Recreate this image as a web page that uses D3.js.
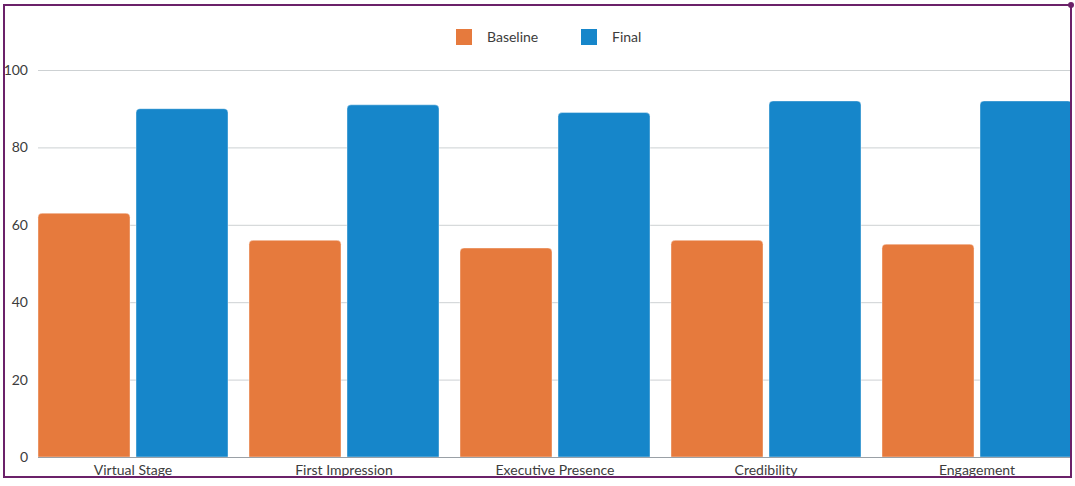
<!DOCTYPE html>
<html><head><meta charset="utf-8">
<script src="https://cdn.jsdelivr.net/npm/d3@7"></script>
<style>
html,body{margin:0;padding:0;background:#fff;}
svg{display:block;}
text{font-family:"Source Sans Pro","Lato","Open Sans",sans-serif;}
</style></head>
<body>
<svg id="c" width="1075" height="486"></svg>
<script>
const categories = ["Virtual Stage","First Impression","Executive Presence","Credibility","Engagement"];
const seriesNames = ["Baseline","Final"];
const baseline = [63,56,54,56,55];
const finalVals = [90,91,89,92,92];
const yTicks = [0,20,40,60,80,100];
const colors = ["#E67A3D","#1686CA"];

const svg = d3.select("#c");
const W = 1075, H = 486;
const plotLeft = 38, plotTop = 70, plotBottom = 457;
const step = 211;

svg.append("defs").append("clipPath").attr("id","clipArea")
  .append("rect").attr("x",5).attr("y",6).attr("width",1065).attr("height",470);

const xg = d3.scaleBand().domain(categories)
  .range([plotLeft, plotLeft + step*categories.length - 21])
  .paddingInner(21/211).paddingOuter(0);
const x1 = d3.scaleBand().domain(seriesNames).range([0, xg.bandwidth()]).paddingInner(6/98);
const y = d3.scaleLinear().domain([0,100]).range([plotBottom, plotTop]);

const g = svg.append("g").attr("clip-path","url(#clipArea)");

// gridlines
g.append("g").selectAll("line").data(yTicks.filter(d=>d>0)).join("line")
  .attr("x1", plotLeft).attr("x2", W)
  .attr("y1", d=>y(d)+0.5).attr("y2", d=>y(d)+0.5)
  .attr("stroke","#cdd1d3").attr("stroke-width",1);

// bars
const data = categories.map((c,i)=>({cat:c, vals:[baseline[i], finalVals[i]]}));
const r = 4;
function roundTop(xp, yp, w, h){
  const rr = Math.min(r, h);
  return `M${xp},${yp+h}V${yp+rr}Q${xp},${yp} ${xp+rr},${yp}H${xp+w-rr}Q${xp+w},${yp} ${xp+w},${yp+rr}V${yp+h}Z`;
}
const groups = g.append("g").selectAll("g").data(data).join("g")
  .attr("transform", d=>`translate(${xg(d.cat)},0)`);
groups.selectAll("path").data(d=>d.vals.map((v,i)=>({v, s:seriesNames[i], i}))).join("path")
  .attr("d", d=>roundTop(x1(d.s), y(d.v), x1.bandwidth(), plotBottom - y(d.v)))
  .attr("fill", d=>colors[d.i])
  .attr("stroke","#ffffff").attr("stroke-opacity",0.4).attr("stroke-width",1);

// x axis line
g.append("line").attr("x1",plotLeft).attr("x2",W)
  .attr("y1",plotBottom+0.5).attr("y2",plotBottom+0.5)
  .attr("stroke","#9aa0a6").attr("stroke-width",1);

// x labels
g.append("g").selectAll("text").data(categories).join("text")
  .attr("x", d=>xg(d)+xg.bandwidth()/2).attr("y", 475)
  .attr("text-anchor","middle").attr("font-size",14).attr("fill","#3c3c3c")
  .text(d=>d);

// y labels
g.append("g").selectAll("text").data(yTicks).join("text")
  .attr("x", 28).attr("y", d=>y(d)+5)
  .attr("text-anchor","end").attr("font-size",14).attr("fill","#3c3c3c")
  .text(d=>d);

// legend
const legend = svg.append("g");
const legX = [456, 581];
seriesNames.forEach((s,i)=>{
  legend.append("rect").attr("x",legX[i]).attr("y",29).attr("width",16).attr("height",16)
    .attr("fill",colors[i]);
  legend.append("text").attr("x",legX[i]+31).attr("y",42).attr("font-size",14)
    .attr("fill","#3c3c3c").text(s);
});

// border
svg.append("rect").attr("x",4).attr("y",5).attr("width",1067).attr("height",472)
  .attr("fill","none").attr("stroke","#6b2169").attr("stroke-width",2);
svg.append("circle").attr("cx",1071).attr("cy",5).attr("r",3).attr("fill","#6b2169");
</script>
</body></html>
